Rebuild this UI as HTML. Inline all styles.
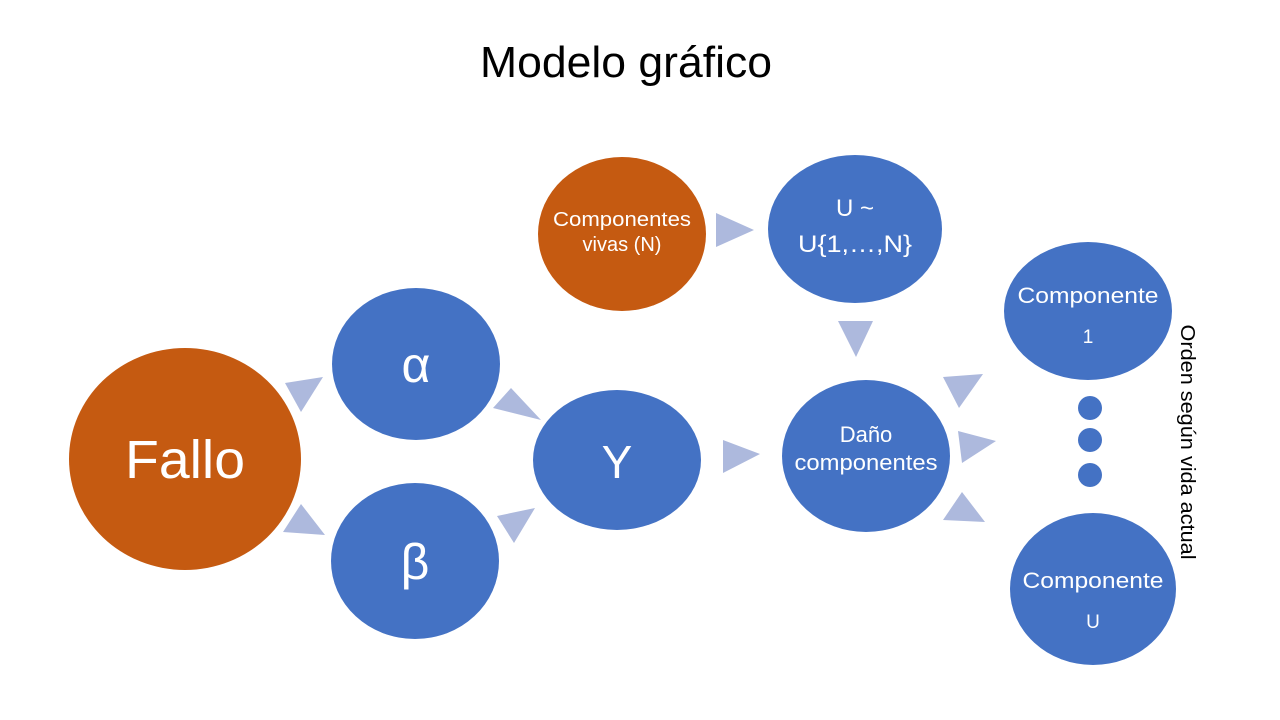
<!DOCTYPE html>
<html><head><meta charset="utf-8"><style>
body{margin:0;width:1280px;height:720px;background:#fff;overflow:hidden}
svg{display:block}
text{font-family:"Liberation Sans",sans-serif}
</style></head><body>
<svg width="1280" height="720" viewBox="0 0 1280 720">
<text x="626" y="77" font-size="44" text-anchor="middle" fill="#000" textLength="292" lengthAdjust="spacingAndGlyphs">Modelo gráfico</text>
<g fill="#4472c4">
<ellipse cx="416" cy="364" rx="84" ry="76"/>
<ellipse cx="415" cy="561" rx="84" ry="78"/>
<ellipse cx="617" cy="460" rx="84" ry="70"/>
<ellipse cx="855" cy="229" rx="87" ry="74"/>
<ellipse cx="866" cy="456" rx="84" ry="76"/>
<ellipse cx="1088" cy="311" rx="84" ry="69"/>
<ellipse cx="1093" cy="589" rx="83" ry="76"/>
<circle cx="1090" cy="408" r="12"/>
<circle cx="1090" cy="440" r="12"/>
<circle cx="1090" cy="475" r="12"/>
</g>
<g fill="#c55a11">
<ellipse cx="185" cy="459" rx="116" ry="111"/>
<ellipse cx="622" cy="234" rx="84" ry="77"/>
</g>
<g fill="#adb9dd">
<polygon points="285,383 323,377 301,412"/>
<polygon points="511,388 541,420 493,408"/>
<polygon points="301,504 325,535 283,532"/>
<polygon points="497,516 535,508 514,543"/>
<polygon points="723,440 723,473 760,454"/>
<polygon points="838,321 873,321 856,357"/>
<polygon points="943,377 983,374 959,408"/>
<polygon points="958,431 996,441 962,463"/>
<polygon points="962,492 985,522 943,520"/>
<polygon points="716,213 716,247 754,230"/>
</g>
<g fill="#fff" text-anchor="middle">
<text x="185" y="478" font-size="54" textLength="120" lengthAdjust="spacingAndGlyphs">Fallo</text>
<text x="416" y="382" font-size="50">α</text>
<text x="415" y="579" font-size="50">β</text>
<text x="617" y="478" font-size="46">Y</text>
<text x="622" y="226" font-size="20" textLength="138" lengthAdjust="spacingAndGlyphs">Componentes</text>
<text x="622" y="251" font-size="20">vivas (N)</text>
<text x="855" y="216" font-size="24">U ~</text>
<text x="855" y="252" font-size="24" textLength="114" lengthAdjust="spacingAndGlyphs">U{1,…,N}</text>
<text x="866" y="442" font-size="22">Daño</text>
<text x="866" y="470" font-size="22" textLength="143" lengthAdjust="spacingAndGlyphs">componentes</text>
<text x="1088" y="303" font-size="22" textLength="141" lengthAdjust="spacingAndGlyphs">Componente</text>
<text x="1088" y="343" font-size="19">1</text>
<text x="1093" y="588" font-size="22" textLength="141" lengthAdjust="spacingAndGlyphs">Componente</text>
<text x="1093" y="628" font-size="19">U</text>
</g>
<text transform="translate(1181,442) rotate(90)" font-size="20" text-anchor="middle" fill="#000" textLength="235" lengthAdjust="spacingAndGlyphs">Orden según vida actual</text>
</svg>
</body></html>
